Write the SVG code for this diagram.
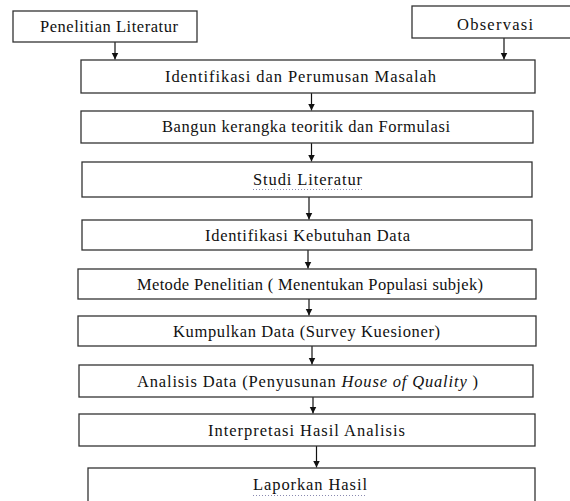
<svg xmlns="http://www.w3.org/2000/svg" width="570" height="501" viewBox="0 0 570 501">
<style>
.box{fill:#fff;stroke:#333;stroke-width:1.3}
.t{font-family:"Liberation Serif","DejaVu Serif",serif;font-size:16.5px;fill:#111}
.c{stroke:#111;stroke-width:1.2;fill:none}
.dot{stroke:#8a8ab0;stroke-width:1;stroke-dasharray:1,2}
</style>
<defs>
<marker id="ah" markerUnits="userSpaceOnUse" markerWidth="8" markerHeight="8" refX="7" refY="4" orient="auto">
<path d="M0,0.5 L7,4 L0,7.5 z" fill="#111"/>
</marker>
</defs>
<rect x="0" y="0" width="570" height="501" fill="#fff"/>
<g id="connectors">
<line class="c" x1="115" y1="42" x2="115" y2="59.5" marker-end="url(#ah)"/>
<line class="c" x1="504" y1="38" x2="504" y2="59.5" marker-end="url(#ah)"/>
<line class="c" x1="311.5" y1="93" x2="311.5" y2="110.5" marker-end="url(#ah)"/>
<line class="c" x1="311.5" y1="143" x2="311.5" y2="161.5" marker-end="url(#ah)"/>
<line class="c" x1="309" y1="197" x2="309" y2="219.5" marker-end="url(#ah)"/>
<line class="c" x1="308" y1="250" x2="308" y2="268.5" marker-end="url(#ah)"/>
<line class="c" x1="309" y1="299" x2="309" y2="315.5" marker-end="url(#ah)"/>
<line class="c" x1="312" y1="346" x2="312" y2="364.5" marker-end="url(#ah)"/>
<line class="c" x1="313" y1="397" x2="313" y2="413.5" marker-end="url(#ah)"/>
<line class="c" x1="316.5" y1="446" x2="316.5" y2="467.5" marker-end="url(#ah)"/>
</g>
<g id="penelitian-literatur">
<rect class="box" x="13" y="11" width="184" height="31"/>
<text class="t" x="40" y="32" textLength="138" lengthAdjust="spacing">Penelitian Literatur</text>
</g>
<g id="observasi">
<rect class="box" x="412" y="6" width="170" height="32"/>
<text class="t" x="457" y="29.5" textLength="76" lengthAdjust="spacing">Observasi</text>
</g>
<g id="n1">
<rect class="box" x="81" y="60" width="454" height="33"/>
<text class="t" x="165" y="82" textLength="271" lengthAdjust="spacing">Identifikasi dan Perumusan Masalah</text>
</g>
<g id="n2">
<rect class="box" x="81" y="111" width="452" height="32"/>
<text class="t" x="162" y="132" textLength="288" lengthAdjust="spacing">Bangun kerangka teoritik dan Formulasi</text>
</g>
<g id="n3">
<rect class="box" x="82" y="162" width="450" height="35"/>
<text class="t" x="253" y="185" textLength="109" lengthAdjust="spacing">Studi Literatur</text>
<line class="dot" x1="253" y1="189.5" x2="362" y2="189.5"/>
</g>
<g id="n4">
<rect class="box" x="82" y="220" width="450" height="30"/>
<text class="t" x="205" y="240.5" textLength="205" lengthAdjust="spacing">Identifikasi Kebutuhan Data</text>
</g>
<g id="n5">
<rect class="box" x="78" y="269" width="458" height="30"/>
<text class="t" x="137" y="289.5" textLength="346" lengthAdjust="spacing">Metode Penelitian ( Menentukan Populasi subjek)</text>
</g>
<g id="n6">
<rect class="box" x="78" y="316" width="458" height="30"/>
<text class="t" x="173" y="336.5" textLength="267" lengthAdjust="spacing">Kumpulkan Data (Survey Kuesioner)</text>
</g>
<g id="n7">
<rect class="box" x="79" y="365" width="454" height="32"/>
<text class="t" x="137" y="386.5" textLength="341" lengthAdjust="spacing">Analisis Data (Penyusunan <tspan font-style="italic">House of Quality</tspan> )</text>
</g>
<g id="n8">
<rect class="box" x="79" y="414" width="456" height="32"/>
<text class="t" x="208" y="435.5" textLength="197" lengthAdjust="spacing">Interpretasi Hasil Analisis</text>
</g>
<g id="n9">
<rect class="box" x="88" y="468" width="447" height="40"/>
<text class="t" x="253" y="490" textLength="114" lengthAdjust="spacing">Laporkan Hasil</text>
<line class="dot" x1="253" y1="495.5" x2="367" y2="495.5"/>
</g>
</svg>
